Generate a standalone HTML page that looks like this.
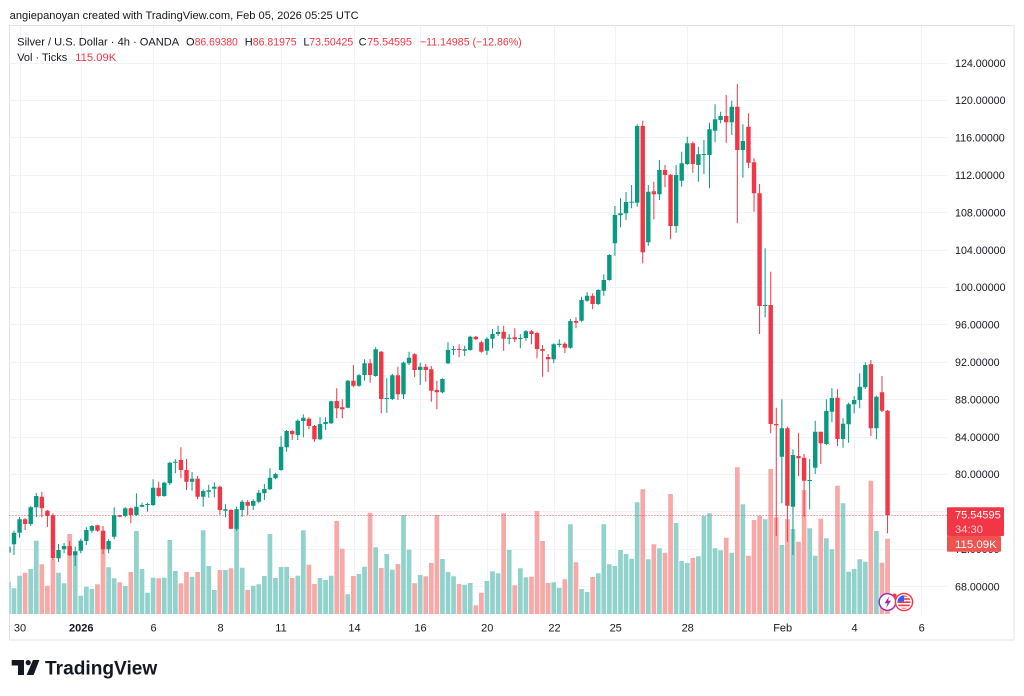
<!DOCTYPE html>
<html><head><meta charset="utf-8">
<style>
html,body{margin:0;padding:0;background:#fff;width:1024px;height:696px;overflow:hidden}
svg{display:block;font-family:"Liberation Sans",Arial,sans-serif}
</style></head><body>
<svg id="s" width="1024" height="696" viewBox="0 0 1024 696" xmlns="http://www.w3.org/2000/svg">
<defs>
<clipPath id="pc"><rect x="9.5" y="25.5" width="937.5" height="588.5"/></clipPath>
<clipPath id="fc"><circle cx="904" cy="602" r="6.6"/></clipPath>
</defs>
<rect width="1024" height="696" fill="#fff"/>
<text x="9.7" y="18.8" font-size="11" fill="#131722" textLength="349" lengthAdjust="spacingAndGlyphs">angiepanoyan created with TradingView.com, Feb 05, 2026 05:25 UTC</text>
<rect x="9.5" y="25.5" width="1004.5" height="614.5" fill="none" stroke="#e0e3eb" stroke-width="1"/>
<g stroke="#f0f3fa" stroke-width="1">
<path d="M9.5 63.5H947M9.5 100.5H947M9.5 137.5H947M9.5 175.5H947M9.5 212.5H947M9.5 250.5H947M9.5 287.5H947M9.5 324.5H947M9.5 362.5H947M9.5 399.5H947M9.5 437.5H947M9.5 474.5H947M9.5 511.5H947M9.5 549.5H947M9.5 586.5H947"/>
<path d="M20.5 26V614M81.5 26V614M153.5 26V614M220.5 26V614M281.5 26V614M354.5 26V614M420.5 26V614M487.5 26V614M554.5 26V614M615.5 26V614M687.5 26V614M782.5 26V614M854.5 26V614M921.5 26V614"/>
</g>
<g font-size="11" fill="#131722">
<text x="17.2" y="45.6" textLength="162" lengthAdjust="spacingAndGlyphs">Silver / U.S. Dollar · 4h · OANDA</text>
<text x="186" y="45.6">O</text>
<text x="194.8" y="45.6" fill="#f23645" textLength="43" lengthAdjust="spacingAndGlyphs">86.69380</text>
<text x="244.8" y="45.6">H</text>
<text x="252.8" y="45.6" fill="#f23645" textLength="43.8" lengthAdjust="spacingAndGlyphs">86.81975</text>
<text x="303.4" y="45.6">L</text>
<text x="309.3" y="45.6" fill="#f23645" textLength="44" lengthAdjust="spacingAndGlyphs">73.50425</text>
<text x="358.6" y="45.6">C</text>
<text x="367.2" y="45.6" fill="#f23645" textLength="44.8" lengthAdjust="spacingAndGlyphs">75.54595</text>
<text x="420" y="45.6" fill="#f23645" textLength="101.7" lengthAdjust="spacingAndGlyphs">−11.14985 (−12.86%)</text>
<text x="17.2" y="60.8" textLength="50" lengthAdjust="spacingAndGlyphs">Vol · Ticks</text>
<text x="75.2" y="60.8" fill="#f23645" textLength="41" lengthAdjust="spacingAndGlyphs">115.09K</text>
</g>
<g clip-path="url(#pc)">
<path id="vg" fill="#92d2cc"/>
<path id="vr" fill="#f7a9a7"/>
<path d="M9.5 515.5H947" stroke="#f23645" stroke-width="1" stroke-dasharray="1 2" opacity="0.85"/>
<path id="wg" stroke="#089981" stroke-width="1" fill="none"/>
<path id="wr" stroke="#f23645" stroke-width="1" fill="none"/>
<path id="bg" fill="#089981"/>
<path id="br" fill="#f23645"/>
</g>
<g font-size="10.7" fill="#131722">
<text x="955" y="66.8">124.00000</text>
<text x="955" y="104.2">120.00000</text>
<text x="955" y="141.6">116.00000</text>
<text x="955" y="179">112.00000</text>
<text x="955" y="216.4">108.00000</text>
<text x="955" y="253.8">104.00000</text>
<text x="955" y="291.2">100.00000</text>
<text x="955" y="328.6">96.00000</text>
<text x="955" y="366">92.00000</text>
<text x="955" y="403.4">88.00000</text>
<text x="955" y="440.8">84.00000</text>
<text x="955" y="478.2">80.00000</text>
<text x="955" y="515.6">76.00000</text>
<text x="955" y="553">72.00000</text>
<text x="955" y="590.4">68.00000</text>
</g>
<rect x="947" y="507.3" width="57" height="28.7" rx="1" fill="#f23645"/>
<rect x="947" y="536" width="54" height="15.7" rx="1" fill="#ef5350"/>
<text x="955" y="518.6" font-size="10.7" fill="#fff" textLength="45.7" lengthAdjust="spacingAndGlyphs">75.54595</text>
<text x="955" y="532.8" font-size="10.7" fill="#fff" fill-opacity="0.78" textLength="28" lengthAdjust="spacingAndGlyphs">34:30</text>
<text x="955" y="547.8" font-size="10.7" fill="#fff" textLength="41.7" lengthAdjust="spacingAndGlyphs">115.09K</text>
<g font-size="11" fill="#131722" text-anchor="middle">
<text x="20" y="631.7">30</text>
<text x="81.3" y="631.7" font-weight="bold">2026</text>
<text x="153.5" y="631.7">6</text>
<text x="220.5" y="631.7">8</text>
<text x="281" y="631.7">11</text>
<text x="354.5" y="631.7">14</text>
<text x="420.5" y="631.7">16</text>
<text x="487.3" y="631.7">20</text>
<text x="554.5" y="631.7">22</text>
<text x="615.7" y="631.7">25</text>
<text x="687.7" y="631.7">28</text>
<text x="782.7" y="631.7">Feb</text>
<text x="854.5" y="631.7">4</text>
<text x="921.7" y="631.7">6</text>
</g>
<circle cx="887.5" cy="602" r="8.3" fill="#fff" stroke="#9c27b0" stroke-width="1.4"/>
<path d="M889.3 596 L884.6 603.2 H887.6 L886 608.2 L891 600.6 H888 Z" fill="#9c27b0"/>
<circle cx="904" cy="602" r="8.6" fill="#fff" stroke="#f23645" stroke-width="1.4"/>
<g clip-path="url(#fc)">
<rect x="896" y="594" width="16" height="16" fill="#fff"/>
<rect x="896" y="595" width="16" height="1.6" fill="#f23645"/>
<rect x="896" y="598.2" width="16" height="1.6" fill="#f23645"/>
<rect x="896" y="601.4" width="16" height="1.6" fill="#f23645"/>
<rect x="896" y="604.6" width="16" height="1.6" fill="#f23645"/>
<rect x="896" y="607.8" width="16" height="1.6" fill="#f23645"/>
<rect x="896" y="594" width="8" height="7.5" fill="#2962ff"/>
</g>
<circle cx="894.6" cy="595.6" r="2" fill="#f23645"/>
<path d="M11.7 660 H24 V675 H18 V665.5 H11.7 Z" fill="#131722"/>
<circle cx="28.2" cy="662.6" r="2.6" fill="#131722"/>
<path d="M33 660 H39.4 L33.6 675 H26.6 Z" fill="#131722"/>
<text x="45" y="674.3" font-size="19" font-weight="bold" fill="#131722" textLength="112.3" lengthAdjust="spacingAndGlyphs">TradingView</text>
</svg>
<script>
(function(){
var raw="g 546 555 546.7 552.7 581.7|g 530.7 555 532.7 544.3 588.3|g 517 537.7 519.3 532.7 575.7|r 518 530 519.3 524 572.7|g 506 526 507.3 524 569|g 493 517 496 507.3 540.7|r 491.7 517.3 496.7 508.3 564.3|r 510 527 510.7 516 585.7|r 513.3 560 515.3 558.3 559.3|g 544 562 550 558.3 572.7|"+
"g 543 553.3 546 549.3 583.3|r 540.7 556 546 555.3 534|g 546.7 566 551.3 555.3 552.7|g 538.7 553.3 540.7 550.7 595.7|g 527.3 545.3 530 541 586.7|g 525 532.7 526 530.7 589|r 524.7 531.7 525.3 530.7 584.3|r 526 554 530.7 549.3 530.7|g 539.3 553.3 541 549.3 567.3|g 507.3 539.3 515.3 536.7 578.3|"+
"r 514.7 517.3 515.3 516.7 582.3|g 507.3 517.3 508.3 516 586|r 507.3 523.3 508.3 515 572|g 493.3 516 506.7 515 531|g 502.7 507.3 505 506.7 569|g 502.7 511.7 504 505 592.7|g 479.3 506 487.7 505 577.7|r 481.7 496.7 487.7 496 578.3|g 481.7 496.7 482.7 496 577.7|g 461.7 485 462.7 483.3 540|"+
"g 459.3 473.3 461.7 462.7 571|r 447.3 478.3 460 470 583.3|r 459 490 470 481.7 572|g 472 490.7 478.7 481.7 576.7|r 476 499.3 478.7 496.7 572|g 489.3 506.7 491 496.7 530.3|g 484.7 497.7 490.3 491.7 566|g 482.3 497.3 486.7 488.7 590|r 485.7 514.7 486.7 510 570|g 504.3 517.3 509.3 510.7 570|"+
"r 509.3 529.3 510 528.7 568.3|g 506.7 530.7 509.3 528.7 528.3|g 500 516.7 501.7 510 567.7|r 500 515 502 505.7 590|g 499.3 510 501 505.7 585.7|g 490 503.3 492.7 501.7 584.3|g 484 500 489 493.3 576|g 468.3 490 477.7 489.3 534|g 472.7 479.3 474 478.3 578|g 436 470.7 446.7 470 567|"+
"g 430 451.7 431 447.3 567|r 430 440 431 434.3 578|g 419.3 440 420.7 435 575.7|g 414.3 437.3 417.7 421 530.3|r 417.3 429.3 418.7 426 564.7|r 425 441.7 426 439.3 584|g 417.3 440 424 439.3 578|g 417.3 430 422 424 580|g 400.7 424 401.3 423.3 575.7|r 388.3 418.3 401 408.3 521|"+
"r 399.3 418.3 407.3 409.3 548.7|g 380 408.3 380.7 407.7 594.3|r 365 387.3 380.7 385.7 576|g 374 386.7 375.3 385.7 574|g 359.3 380.7 363.3 375 566.7|r 359.3 382.7 363.3 375 512.7|g 347.3 376.7 349.3 376 547.3|r 351 413.3 351.7 399 568|g 378.3 412.7 398 399 554|g 374 400 375.3 399 569.7|"+
"r 366.7 400 375.3 394.3 564|g 361.7 399 362.7 394.3 515|g 351.7 365 357.7 363.3 549.7|r 353.3 377.3 354.3 370 583.3|g 362.7 385 366.7 370 575|r 364 381.7 366.7 370 576.3|r 366 401.7 369.3 390.7 563|r 380.7 409.3 390 392.3 515|g 378.3 393.3 379 392.3 559|g 342.3 364 350 363.3 572|"+
"g 346 355 349 350 576.3|r 344.3 357.3 349 350 584|g 345.7 356 349.3 350.7 584.7|g 335.7 350.7 336.7 350 583|r 336 340 336.7 339.3 605.3|r 340.7 352.7 342.3 351.7 592.7|g 337.3 355 338.7 350.7 581|g 329 348.3 334 338.7 571.3|g 325.7 336 332 334 573.3|r 325.7 350.7 331.7 338.7 513.3|"+
"g 334 344.3 337.7 338.7 550|r 328.3 342.3 337.3 339.3 585.3|g 334 348.3 338 338.7 568.3|g 330 340.7 331.3 338 577.3|r 330 344.3 331.3 334 576.7|r 331.7 358.3 333 349 511|r 345 376.7 349 350.7 541|r 354 372.3 357 359.3 583|g 343.3 363.3 344.3 359.3 582.3|g 339.3 347.3 343.7 345 587.7|"+
"r 342.3 353 343.7 347.7 579.3|g 319 348.7 321 347.7 524.3|r 317.3 328.3 321 322.7 562.3|g 296.7 321.7 300 320.7 589|g 292.3 301.7 295.7 300.7 592|r 293.3 309.3 295.7 304 577|g 289.3 305 290 304 573.3|g 274.3 295.7 280 290.7 524.3|g 254 280.7 255 280 564.3|g 206 255.7 215 243.3 566|"+
"g 198.3 227.3 213.3 215.3 550|g 192 220 202 213.3 554|g 185 208.3 201.7 202.7 558.7|g 124.3 206.7 126 202.7 502.3|r 120.7 263.3 126 252.3 489.3|g 185 245.7 191.7 242.3 559.3|r 181.7 219.3 191.3 194.3 544.3|g 160 200 170 194.3 548.3|r 165 187.3 170 175 552.7|r 174 239.3 174.7 226 494|"+
"g 165 232.7 175 226 523|g 151.7 186.7 163.3 180.7 561|g 136.7 165 143.3 164 563|r 141.7 172.7 143.3 164 558|g 146.7 181.7 154.3 165 556.3|g 140 174.3 154 155 516|g 122.7 188.3 129.3 155 513.3|g 104.3 142.3 119.3 130.7 548.3|g 111.7 123.3 116 120 550.3|r 95 142.7 116 122.3 537.7|"+
"g 100.7 135 106.7 122.3 552.7|r 84 223.3 106.7 150 467.3|g 124.3 177.7 141 150 504.3|r 113.3 168.3 126.7 162.7 555.7|r 158.3 211.7 162.3 193.3 520|r 184 334 193.3 306 515.7|g 248.3 317.3 305 306 519.3|r 271.7 433.3 305 424 469|r 407.7 536 424 425.3 517.3|g 399.3 503.3 428.3 456.7 545|"+
"r 426.7 541.7 428.3 505.7 519.3|g 449.3 555 455 506.7 529|r 432.7 476 456 458.3 541.7|r 454 516.7 457.7 480.7 490|g 459 509.3 480 481 528.3|g 420.7 474 431.7 467.7 555.7|r 431.7 464 431.7 443.3 518.7|g 399.3 445 411 444 538.3|g 388.3 422.3 398 411.7 549.3|r 389.3 446 397.7 439 485.7|"+
"g 418.3 447.7 423.7 439 503.3|g 402.7 442.7 404.3 424.3 571.7|g 396 413.3 400 404.3 569|g 373.3 408.3 386.7 400 559.3|g 362.3 389 365 387.3 561.7|r 360 436 364.3 428.3 480.7|g 395.7 439.3 396.7 428.3 531|r 376 412.3 392.3 410.7 562.7|r 410 533.3 410.7 515 538.7";
var vg="",vr="",wg="",wr="",bg="",br="";
raw.split("|").forEach(function(s,i){
 var a=s.trim().split(/\s+/);
 var c=a[0],wt=+a[1],wb=+a[2],bt=+a[3],bb=+a[4],vt=+a[5];
 var x=8.44+i*5.564;
 if(bb-bt<1){bb=bt+1;}
 var x1=(x-2.35).toFixed(2),x2=(x+2.35).toFixed(2);
 var v="M"+x1+" "+vt+"H"+x2+"V614H"+x1+"Z";
 var w="M"+x.toFixed(2)+" "+wt+"V"+wb;
 var b1=(x-2.2).toFixed(2),b2=(x+2.2).toFixed(2);
 var b="M"+b1+" "+bt+"H"+b2+"V"+bb+"H"+b1+"Z";
 if(c=="g"){vg+=v;wg+=w;bg+=b}else{vr+=v;wr+=w;br+=b}
});
document.getElementById("vg").setAttribute("d",vg);
document.getElementById("vr").setAttribute("d",vr);
document.getElementById("wg").setAttribute("d",wg);
document.getElementById("wr").setAttribute("d",wr);
document.getElementById("bg").setAttribute("d",bg);
document.getElementById("br").setAttribute("d",br);
})();
</script>
</body></html>
